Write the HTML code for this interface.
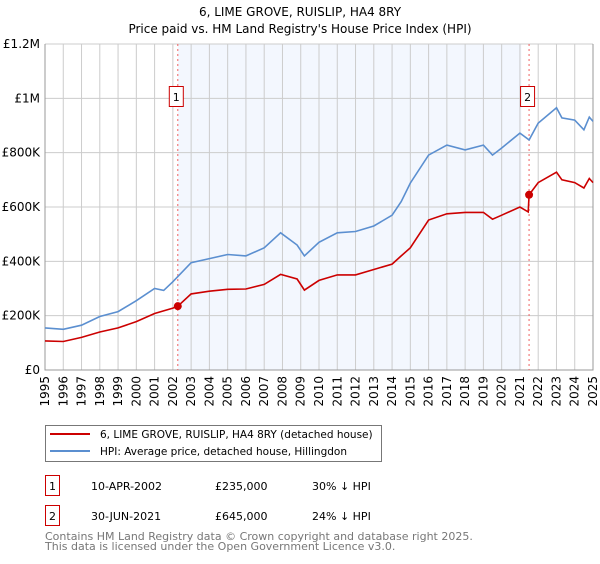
<!DOCTYPE html>
<html><head><meta charset="utf-8"><style>
body{margin:0;background:#fff;font-family:"DejaVu Sans","Liberation Sans",sans-serif;}
svg text{font-family:"DejaVu Sans","Liberation Sans",sans-serif;}
</style></head><body>
<svg id="chart" width="600" height="560" xmlns="http://www.w3.org/2000/svg">
<text x="300" y="16" text-anchor="middle" font-size="12">6, LIME GROVE, RUISLIP, HA4 8RY</text>
<text x="300" y="33" text-anchor="middle" font-size="12">Price paid vs. HM Land Registry's House Price Index (HPI)</text>
<g id="plot"></g>
<g>
<rect x="45.5" y="425.5" width="336" height="36" fill="#fff" stroke="#777"/>
<line x1="50" y1="434" x2="90" y2="434" stroke="#cc0000" stroke-width="2"/>
<text x="100" y="438" font-size="10.5">6, LIME GROVE, RUISLIP, HA4 8RY (detached house)</text>
<line x1="50" y1="451" x2="90" y2="451" stroke="#5b8fd0" stroke-width="2"/>
<text x="100" y="455" font-size="10.5">HPI: Average price, detached house, Hillingdon</text>
</g>
<g font-size="11">
<rect x="45.5" y="475.5" width="14" height="20" fill="#fff" stroke="#cc0000"/>
<text x="52.5" y="490" text-anchor="middle">1</text>
<text x="91" y="490">10-APR-2002</text>
<text x="215" y="490">£235,000</text>
<text x="312" y="490">30% ↓ HPI</text>
<rect x="45.5" y="505.5" width="14" height="20" fill="#fff" stroke="#cc0000"/>
<text x="52.5" y="520" text-anchor="middle">2</text>
<text x="91" y="520">30-JUN-2021</text>
<text x="215" y="520">£645,000</text>
<text x="312" y="520">24% ↓ HPI</text>
</g>
<text x="45" y="540" font-size="11" fill="#777">Contains HM Land Registry data © Crown copyright and database right 2025.</text>
<text x="45" y="550" font-size="11" fill="#777">This data is licensed under the Open Government Licence v3.0.</text>
</svg>
<script>
const hpiYears=[1995,1996,1997,1998,1999,2000,2001,2001.5,2002,2003,2004,2005,2006,2007,2007.9,2008.8,2009.2,2010,2011,2012,2013,2014,2014.5,2015,2016,2017,2018,2019,2019.5,2020,2021,2021.5,2022,2023,2023.3,2024,2024.5,2024.8,2025];
const hpiValues=[155,150,165,197,215,255,300,293,325,395,410,425,420,450,505,460,420,470,505,510,530,570,620,688,791,828,810,828,791,817,872,847,909,965,928,920,884,931,915];
const propYears=[1995,1996,1997,1998,1999,2000,2001,2002,2002.27,2003,2004,2005,2006,2007,2007.9,2008.8,2009.2,2010,2011,2012,2013,2014,2014.5,2015,2016,2017,2018,2019,2019.5,2020,2021,2021.45,2021.5,2022,2023,2023.3,2024,2024.5,2024.8,2025];
const propValues=[107,105,120,140,155,178,208,228,235,280,290,297,298,315,352,335,294,330,350,350,370,390,420,450,552,575,580,580,555,570,600,582,645,690,728,700,690,670,705,690];
const saleYears=[2002.27,2021.5];
const saleValues=[235,645];
const saleLabels=["1","2"];
const yTicks=[0,200,400,600,800,1000,1200];
const yTickLabels=["£0","£200K","£400K","£600K","£800K","£1M","£1.2M"];
const xTicks=[1995,1996,1997,1998,1999,2000,2001,2002,2003,2004,2005,2006,2007,2008,2009,2010,2011,2012,2013,2014,2015,2016,2017,2018,2019,2020,2021,2022,2023,2024,2025];
const shadeEnd=2021.08;

const X0=45,X1=593,Y0=370,Y1=44;
const xs=y=>X0+(y-1995)/30*(X1-X0);
const ys=v=>Y0-v/1200*(Y0-Y1);
const NS="http://www.w3.org/2000/svg";
const g=document.getElementById('plot');
function mk(t,a){const e=document.createElementNS(NS,t);for(const k in a)e.setAttribute(k,a[k]);g.appendChild(e);return e;}
let e=mk('rect',{x:xs(saleYears[0]),y:Y1,width:xs(shadeEnd)-xs(saleYears[0]),height:Y0-Y1,fill:'#eef3fd',opacity:0.7});


yTicks.forEach((t,i)=>{
 let l=mk('line',{x1:X0,x2:X1,y1:ys(t),y2:ys(t),stroke:'#ccc'});
 
 
 let tx=mk('text',{x:X0-5,y:ys(t)+4,'text-anchor':'end','font-size':12});
 tx.textContent=yTickLabels[i];
 
 
});
xTicks.forEach(t=>{
 let l=mk('line',{x1:xs(t),x2:xs(t),y1:Y1,y2:Y0,stroke:'#ccc'});
 
 
 let tx=mk('text',{x:0,y:0,'text-anchor':'end','font-size':12,transform:`translate(${xs(t)+4},${Y0+6}) rotate(-90)`});
 tx.textContent=t;
 
 
});
let ax=mk('path',{d:`M${X0},${Y1}V${Y0}H${X1}V${Y1}`,fill:'none',stroke:'#999'});


saleYears.forEach((s,i)=>{
 let l=mk('line',{x1:xs(s),x2:xs(s),y1:Y1,y2:Y0,stroke:'#f06060','stroke-dasharray':'2,3'});
 
 
});
function line(xa,va,col,name){
 let p=mk('path',{d:xa.map((x,i)=>(i?'L':'M')+xs(x).toFixed(1)+','+ys(va[i]).toFixed(1)).join(''),fill:'none',stroke:col,'stroke-width':1.6});
 
 
}
line(hpiYears,hpiValues,'#5b8fd0','hpi-line');
line(propYears,propValues,'#cc0000','property-line');
saleYears.forEach((s,i)=>{
 let c=mk('circle',{cx:xs(s),cy:ys(saleValues[i]),r:4,fill:'#cc0000'});
 
 
 let r=mk('rect',{x:xs(s)-8.5,y:86.5,width:14,height:20,fill:'#fff',stroke:'#cc0000'});
 
 
 let t=mk('text',{x:xs(s)-1.5,y:101,'text-anchor':'middle','font-size':11});
 t.textContent=saleLabels[i];
 
 
});
</script>
</body></html>
